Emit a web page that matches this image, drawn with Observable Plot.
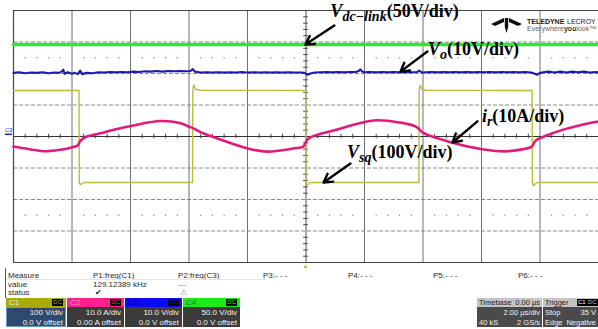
<!DOCTYPE html>
<html><head><meta charset="utf-8">
<script src="https://cdn.jsdelivr.net/npm/d3@7"></script>
<script src="https://cdn.jsdelivr.net/npm/@observablehq/plot@0.6"></script>
<style>
body{margin:0;background:#fff;}
#wrap{position:relative;width:598px;height:329px;overflow:hidden;font-family:"Liberation Sans",Arial,sans-serif;}
#chart{position:absolute;left:0;top:0;}
.t{position:absolute;font-size:8px;line-height:9px;color:#2a2a2a;white-space:nowrap;}
.box{position:absolute;top:298px;height:29px;overflow:hidden;}
.hdr{position:absolute;left:0;right:0;top:0;height:9px;font-size:8px;line-height:9px;white-space:nowrap;}
.bdy{position:absolute;left:0;right:0;top:9px;height:20px;background:#3b3b3b;color:#f2f2f2;font-size:8px;line-height:9.5px;white-space:nowrap;}
.badge{position:absolute;top:1px;height:7px;background:#000;font-size:6px;line-height:7px;padding:0 1px;}
.info .hdr,.info .bdy{font-size:7.5px;}
</style></head><body><div id="wrap"><div id="chart"></div></div>
<script>
// ---- horizontal / vertical division layout (time in µs, vertical in divisions)
const timeGrid = [-10,-8,-6,-4,-2,0,2,4,6,8,10];
const divGrid = [-4,-3,-2,-1,0,1,2,3,4];
const dotRows = [2.5,-2.5];

// ---- channel settings (per-division scales)
const vsqPerDiv = 100, irPerDiv = 10, voPerDiv = 10, vdcPerDiv = 50;

// ---- V_dc-link (V)
const vdcData = [[-10,146],[-5,146],[0,146],[5,146],[10,146]];

// ---- V_o (V)
const voData = [
[-10,20.2],[-9.8,20.4],[-9.6,20.1],[-9.4,20.3],[-9.2,20.2],[-9.0,20.4],[-8.8,20.1],[-8.6,20.3],[-8.45,20.2],[-8.35,20.6],[-8.3,21.2],[-8.25,19.9],[-8.15,20.4],[-8.0,19.9],[-7.9,20.2],[-7.8,19.8],[-7.72,20.9],[-7.65,19.8],[-7.5,20.2],[-7.3,20.1],[-7.1,20.4],[-6.9,20.3],[-6.7,20.5],[-6.5,20.4],[-6.3,20.5],[-6.1,20.4],[-5.9,20.6],[-5.7,20.5],[-5.5,20.7],[-5.3,20.6],[-5.1,20.8],[-4.9,20.6],[-4.7,20.8],[-4.5,20.7],[-4.3,20.8],[-4.1,20.7],[-3.95,20.8],[-3.87,21.4],[-3.8,20.6],[-3.6,20.3],[-3.4,20.4],[-3.2,20.3],[-3.0,20.4],[-2.8,20.3],[-2.6,20.4],[-2.4,20.3],[-2.2,20.5],[-2.0,20.3],[-1.8,20.4],[-1.6,20.3],[-1.4,20.4],[-1.2,20.3],[-1.0,20.4],[-0.8,20.3],[-0.6,20.4],[-0.4,20.3],[-0.2,20.3],[-0.05,20.2],[0.05,19.6],[0.15,20.0],[0.3,20.3],[0.5,20.4],[0.7,20.5],[0.9,20.4],[1.1,20.5],[1.3,20.4],[1.5,20.5],[1.7,20.5],[1.8,20.8],[1.86,21.3],[1.92,20.6],[2.0,20.4],[2.2,20.5],[2.4,20.4],[2.6,20.5],[2.8,20.4],[3.0,20.5],[3.2,20.4],[3.4,20.5],[3.6,20.4],[3.8,20.5],[3.88,20.9],[3.95,20.3],[4.1,20.4],[4.3,20.5],[4.5,20.4],[4.7,20.5],[4.9,20.4],[5.1,20.5],[5.3,20.4],[5.5,20.5],[5.7,20.4],[5.9,20.5],[6.1,20.4],[6.3,20.5],[6.5,20.4],[6.7,20.5],[6.9,20.4],[7.1,20.5],[7.3,20.4],[7.5,20.5],[7.7,20.3],[7.82,19.9],[7.9,19.6],[7.98,20.1],[8.1,20.4],[8.3,20.6],[8.5,20.3],[8.7,20.6],[8.9,20.3],[9.1,20.6],[9.3,20.4],[9.5,20.6],[9.7,20.3],[9.9,20.5],[10,20.4]
];

// ---- V_sq (V)
const vsqData = [
[-10,146],[-7.76,146],[-7.75,-146],[-7.72,-153],[-7.6,-146],[-3.88,-146],[-3.87,146],[-3.84,164],[-3.78,150],[-3.6,147],[-0.01,146],[0,-146],[0.03,-155],[0.15,-146],[3.86,-146],[3.87,146],[3.9,163],[3.96,150],[4.1,147],[7.73,146],[7.74,-146],[7.77,-156],[7.9,-146],[10,-146]
];

// ---- i_r (A)
const irData = [
[-10,-3.2],[-9.42,-4.1],[-8.91,-4.7],[-8.39,-4.2],[-7.98,-3.4],[-7.81,-2.9],[-7.71,-1.3],[-7.54,-0.2],[-7.03,1.0],[-6.68,1.9],[-5.9,3.5],[-4.97,4.9],[-4.29,4.2],[-4.02,3.2],[-3.85,2.6],[-3.61,1.4],[-3.16,-0.2],[-2.0,-3.8],[-1.32,-4.8],[-0.43,-3.8],[-0.09,-3.2],[0.02,-1.3],[0.15,-0.3],[0.94,1.9],[2.31,5.1],[3.23,4.4],[3.74,3.2],[3.85,2.5],[3.98,1.3],[4.94,-1.8],[6.07,-4.1],[6.89,-4.7],[7.68,-3.4],[7.74,-3.0],[7.85,-1.3],[8.22,0.3],[8.91,2.5],[9.83,4.5],[10,4.8]
];

// ---- annotations (µs, div)
const arrows = [
  {x1:0.97,y1:3.52,x2:-0.02,y2:2.92},
  {x1:4.15,y1:2.70,x2:3.23,y2:2.06},
  {x1:5.86,y1:0.48,x2:5.01,y2:-0.19},
  {x1:1.52,y1:-0.86,x2:0.60,y2:-1.46}
];
const labelMain = ["V","V","i","V"];
const labelSub = ["dc\u2212link","o","r","sq"];
const labelRest = ["(50V/div)","(10V/div)","(10A/div)","(100V/div)"];
const labelX = [0.85,4.19,6.03,1.42];
const labelY = [3.78,2.57,0.44,-0.70];

// ---- bottom panel texts
const measureRows = ["Measure","value","status"];
const paramNames = ["P1:freq(C1)","P2:freq(C3)","P3:- - -","P4:- - -","P5:- - -","P6:- - -"];
const paramValues = ["129.12389 kHz","\u2014","","","",""];
const paramStatus = ["\u2714","\u26A0","","","",""];
const chNames = ["C1","C2","C3","C4"];
const chColors = ["#aaa90e","#ff1f8f","#0a0af5","#1ee81e"];
const chLabelColors = ["#f0f0d0","#ff8cc6","#0000c8","#0a8a0a"];
const chScales = ["100 V/div","10.0 A/div","10.0 V/div","50.0 V/div"];
const chOffsets = ["0.0 V offset","0.00 A offset","0.0 V offset","0.0 V offset"];
const tbRows = [["Timebase","0.00 \u00b5s"],["","2.00 \u00b5s/div"],["40 kS","2 GS/s"]];
const trRows = [["Trigger",""],["Stop","35 V"],["Edge","Negative"]];

// ---- grid helpers
const minorT = d3.range(-10, 10.001, 0.4).map(v => +v.toFixed(2)).filter(v => Math.abs(v/2 - Math.round(v/2)) > 1e-6);
const minorY = d3.range(-4, 4.001, 0.2).map(v => +v.toFixed(2)).filter(v => Math.abs(v - Math.round(v)) > 1e-6);
const dotPts = dotRows.flatMap(r => minorT.map(t => ({t, r})));

const plot = Plot.plot({
  width: 598, height: 270,
  marginTop: 10, marginLeft: 13, marginRight: 0, marginBottom: 8,
  x: {domain: [-10, 10], axis: null},
  y: {domain: [-4, 4], axis: null},
  style: {background: "transparent", overflow: "visible"},
  marks: [
    Plot.ruleY(divGrid.filter(d => d !== 0 && Math.abs(d) !== 4), {y: d => d, stroke: "#8a8a8a", strokeWidth: 1, strokeDasharray: "4,2"}),
    Plot.ruleX(timeGrid.filter(d => d !== 0), {x: d => d, stroke: "#707070", strokeWidth: 1}),
    Plot.ruleY([4, -4], {y: d => d, stroke: "#444", strokeWidth: 1.2}),
    Plot.ruleX([-10], {x: d => d, stroke: "#444", strokeWidth: 1.2}),
    Plot.ruleY([0], {y: d => d, stroke: "#333", strokeWidth: 1.2}),
    Plot.ruleX([0], {x: d => d, stroke: "#555", strokeWidth: 1}),
    Plot.ruleX(minorT, {x: d => d, y1: -0.07, y2: 0.07, stroke: "#444", strokeWidth: 1}),
    Plot.ruleY(minorY, {y: d => d, x1: -0.08, x2: 0.08, stroke: "#444", strokeWidth: 1}),
    Plot.dot(dotPts, {x: "t", y: "r", r: 0.7, fill: "#8a8a8a"}),
    Plot.line(vdcData, {x: d => d[0], y: d => d[1] / vdcPerDiv, stroke: "#2ee82e", strokeWidth: 3.5}),
    Plot.line(voData, {x: d => d[0], y: d => d[1] / voPerDiv, stroke: "#1c1ca8", strokeWidth: 2.1}),
    Plot.line(vsqData, {x: d => d[0], y: d => d[1] / vsqPerDiv, stroke: "#bcbc3a", strokeWidth: 1.4}),
    Plot.line(irData, {x: d => d[0], y: d => d[1] / irPerDiv, stroke: "#e3197c", strokeWidth: 2.6, curve: "catmull-rom"}),
    Plot.arrow(arrows, {x1: "x1", y1: "y1", x2: "x2", y2: "y2", stroke: "#000", strokeWidth: 2.4, headLength: 6})
  ]
});
document.getElementById("chart").appendChild(plot);

const xs = plot.scale("x").apply, ys = plot.scale("y").apply;
const svg = d3.select(plot);

// labels with subscripts
labelMain.forEach((m, i) => {
  const t = svg.append("text")
    .attr("x", xs(labelX[i])).attr("y", ys(labelY[i])).attr("text-anchor", "start")
    .attr("font-family", "'Liberation Serif','Times New Roman',serif")
    .attr("font-weight", "bold").attr("font-size", 18).attr("fill", "#000");
  t.append("tspan").attr("font-style", "italic").text(m);
  t.append("tspan").attr("font-style", "italic").attr("font-size", 14).attr("dy", 4).text(labelSub[i]);
  t.append("tspan").attr("dy", -4).text(labelRest[i]);
});

// C3 ground marker and trigger marker
svg.append("text").attr("x", 5).attr("y", ys(0) - 4).attr("text-anchor", "start").attr("font-size", 6).attr("font-family", "Liberation Sans,Arial,sans-serif").attr("fill", "#3a3ab0").text("C3");
svg.append("rect").attr("x", 5).attr("y", ys(0) - 2.5).attr("width", 7).attr("height", 1.6).attr("fill", "#2a2ad0");
svg.append("text").attr("x", xs(0)).attr("y", 268).attr("text-anchor", "middle").attr("font-size", 6).attr("fill", "#b8b830").text("\u25B2");

// logo
const logo = svg.append("g").attr("transform", "translate(491,18)");
logo.append("path").attr("d", "M0,6 L13,0 L13,4 L4,8 Z M31,6 L18,0 L18,4 L27,8 Z M13.8,0 L17.2,0 L17.2,9 L15.5,15 L13.8,9 Z").attr("fill", "#111");
const logoFont = "'Liberation Sans',Arial,sans-serif";
svg.append("text").attr("x", 527).attr("y", 24).attr("text-anchor", "start").attr("font-family", logoFont).attr("font-weight", "bold").attr("font-size", 7).attr("fill", "#222").text("TELEDYNE");
svg.append("text").attr("x", 567).attr("y", 24).attr("text-anchor", "start").attr("font-family", logoFont).attr("font-size", 7).attr("fill", "#222").text("LECROY");
svg.append("text").attr("x", 527).attr("y", 31).attr("text-anchor", "start").attr("font-family", logoFont).attr("font-size", 7).attr("fill", "#666")
  .call(t => { t.append("tspan").text("Everywhere"); t.append("tspan").attr("font-weight", "bold").attr("fill", "#333").text("you"); t.append("tspan").text("look\u2122"); });

// ---- bottom panel
const wrap = document.getElementById("wrap");
function add(html) { wrap.insertAdjacentHTML("beforeend", html); }
add(`<div style="position:absolute;left:5px;top:268px;width:1px;height:30px;background:#555"></div>`);
measureRows.forEach((r, i) => add(`<div class="t" style="left:8px;top:${271 + i*8.5}px">${r}</div>`));
paramNames.forEach((p, i) => {
  const x = 93 + i * 85;
  add(`<div class="t" style="left:${x}px;top:271px">${p}</div>`);
  if (paramValues[i]) add(`<div class="t" style="left:${x}px;top:279.5px;${i ? "color:#888" : ""}">${paramValues[i]}</div>`);
  if (paramStatus[i]) add(`<div class="t" style="left:${x + 2}px;top:288px;${i ? "color:#888;font-family:DejaVu Sans" : ""}">${paramStatus[i]}</div>`);
});
add(`<div style="position:absolute;left:6px;top:278.5px;width:260px;height:1px;background:#e4e4e4"></div>`);
const chLeft = [6, 67, 125, 183], chW = [60, 57, 57, 57];
chNames.forEach((c, i) => {
  const sel = i === 0;
  add(`<div class="box" style="left:${chLeft[i]}px;width:${chW[i]}px">
    <div class="hdr" style="background:${chColors[i]};color:${chLabelColors[i]}"><span style="position:absolute;left:3px">${c}</span>
      <span class="badge" style="right:3px;color:${chColors[i]}">DC</span></div>
    <div class="bdy" style="${sel ? "background:#2c4a6c;box-shadow:inset 0 0 0 1px #6a9cc8" : ""}">
      <div style="text-align:right;padding-right:3px;padding-top:1px">${chScales[i]}<br>${chOffsets[i]}</div></div></div>`);
});
function infoBox(left, width, rows, badges) {
  let h = `<div class="box info" style="left:${left}px;width:${width}px">
    <div class="hdr" style="background:#c4c4c4;color:#222"><span style="position:absolute;left:2px">${rows[0][0]}</span><span style="position:absolute;right:2px">${rows[0][1]}</span>${badges || ""}</div>
    <div class="bdy" style="background:#4a4a4a">`;
  rows.slice(1).forEach((r, j) => {
    h += `<span style="position:absolute;left:2px;top:${1 + j*9.5}px">${r[0]}</span><span style="position:absolute;right:2px;top:${1 + j*9.5}px">${r[1]}</span>`;
  });
  return h + `</div></div>`;
}
add(infoBox(477, 65, tbRows));
add(infoBox(543, 55, trRows, `<span class="badge" style="left:34px;color:#fff">C1</span><span class="badge" style="left:44px;color:#bbb">DC</span>`));
</script>
</body></html>
